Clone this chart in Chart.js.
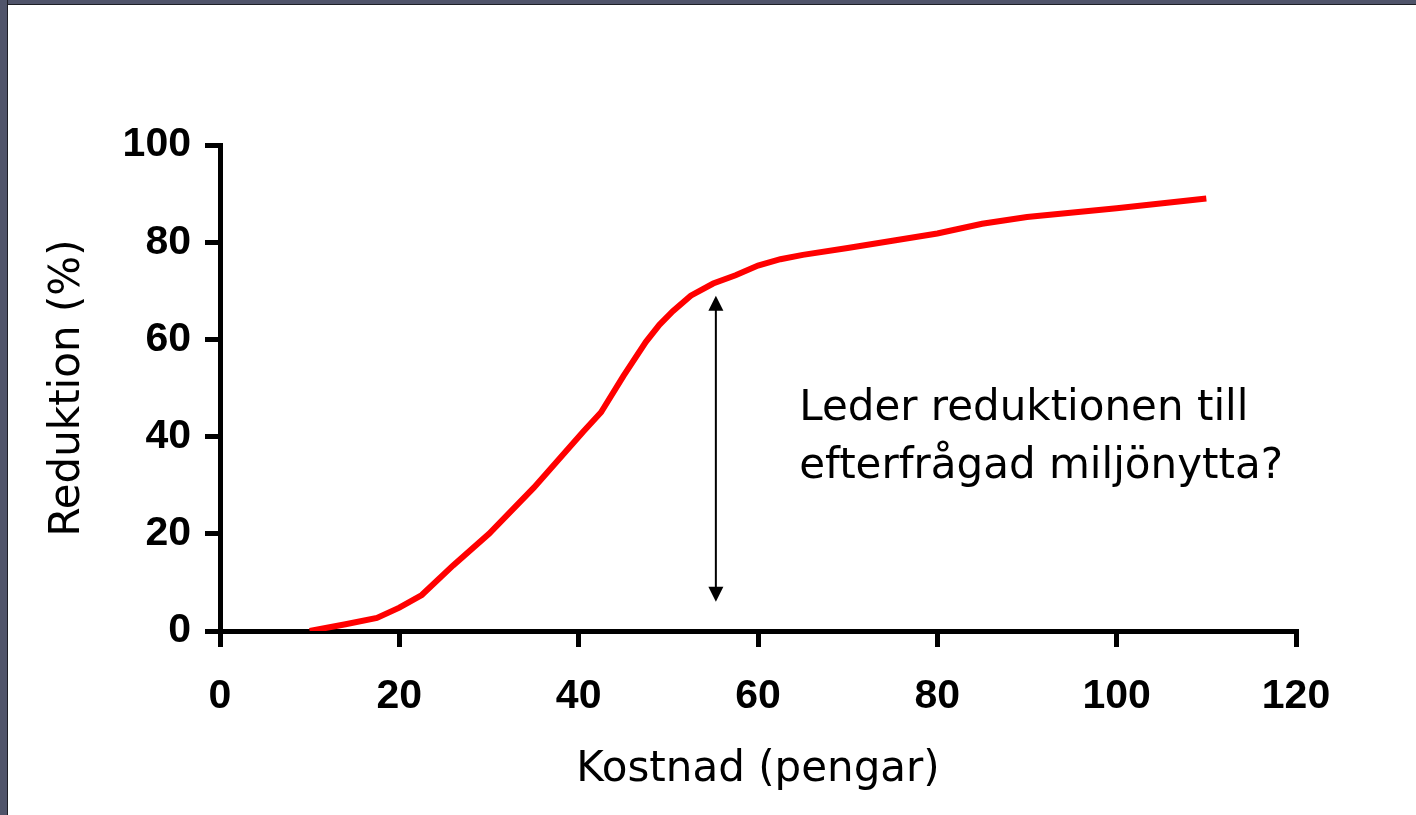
<!DOCTYPE html>
<html>
<head>
<meta charset="utf-8">
<script src="https://cdn.jsdelivr.net/npm/chart.js@4.4.1/dist/chart.umd.min.js"></script>
<style>
    html, body { margin: 0; padding: 0; background: #ffffff; overflow: hidden; }
    #wrap { position: relative; width: 1416px; height: 815px; }
    #frameLeft { position: absolute; left: 0; top: 0; width: 7px; height: 815px; background: #50546a; border-right: 1px solid #1e1f26; }
    #frameTop { position: absolute; left: 0; top: 0; width: 1416px; height: 4px; background: #50546a; border-bottom: 1px solid #1e1f26; }
</style>
</head>
<body>
<div id="wrap">
    <canvas id="costChart" width="1416" height="815"></canvas>
    <div id="frameTop"></div>
    <div id="frameLeft"></div>
</div>
<script>
// Chart data
const costs = [10, 14, 17.5, 20, 22.5, 26, 30, 35, 40.5, 42.5, 45, 47.5, 49, 50.5, 52.5, 55, 57.5, 60, 62.5, 65, 70, 75, 80, 85, 90, 100, 110];
const reductions = [0, 1.4, 2.7, 4.8, 7.4, 13.5, 20, 29.5, 41, 45, 52.5, 59.5, 63, 65.8, 69, 71.5, 73.2, 75.2, 76.5, 77.4, 78.8, 80.3, 81.8, 83.8, 85.2, 87, 89];
const xTicks = [0, 20, 40, 60, 80, 100, 120];
const yTicks = [0, 20, 40, 60, 80, 100];

// Double-headed arrow (cost, from reduction, to reduction)
const arrowCost = [55.3];
const arrowRange = [6, 69];
const noteLines = ['Leder reduktionen till', 'efterfrågad miljönytta?'];

const tickFont = { family: "'Liberation Sans', Arial, sans-serif", size: 41, weight: 'bold' };
const titleFont = { family: "'DejaVu Sans', Tahoma, sans-serif", size: 42, weight: 'normal' };

// Draws the vertical double arrow and the question text
const arrowPlugin = {
    id: 'arrowNote',
    afterDatasetsDraw(chart) {
        const ctx = chart.ctx;
        const xs = chart.scales.x;
        const ys = chart.scales.y;
        const ax = xs.getPixelForValue(arrowCost[0]);
        const yTop = ys.getPixelForValue(arrowRange[1]);
        const yBot = ys.getPixelForValue(arrowRange[0]);
        const head = 15;
        const half = 7.5;

        ctx.save();
        ctx.strokeStyle = '#000';
        ctx.fillStyle = '#000';
        ctx.lineWidth = 2;
        ctx.beginPath();
        ctx.moveTo(ax, yTop + head - 1);
        ctx.lineTo(ax, yBot - head + 1);
        ctx.stroke();

        ctx.beginPath();
        ctx.moveTo(ax, yTop);
        ctx.lineTo(ax - half, yTop + head);
        ctx.lineTo(ax + half, yTop + head);
        ctx.closePath();
        ctx.fill();

        ctx.beginPath();
        ctx.moveTo(ax, yBot);
        ctx.lineTo(ax - half, yBot - head);
        ctx.lineTo(ax + half, yBot - head);
        ctx.closePath();
        ctx.fill();

        // note text
        ctx.font = "normal 42px 'DejaVu Sans', Tahoma, sans-serif";
        ctx.textAlign = 'left';
        ctx.textBaseline = 'alphabetic';
        const tx = xs.getPixelForValue(64.6);
        let ty = ys.getPixelForValue(43.5);
        noteLines.forEach(function(line) {
            ctx.fillText(line, tx, ty);
            ty += 58;
        });
        ctx.restore();
    }
};

const ctx = document.getElementById('costChart').getContext('2d');
new Chart(ctx, {
    type: 'line',
    data: {
        datasets: [{
            data: costs.map((c, i) => ({ x: c, y: reductions[i] })),
            borderColor: '#ff0000',
            borderWidth: 6,
            pointRadius: 0,
            tension: 0,
            fill: false
        }]
    },
    options: {
        responsive: false,
        animation: false,
        layout: { padding: { left: 0, top: 145, right: 120, bottom: 0 } },
        plugins: {
            legend: { display: false },
            tooltip: { enabled: false }
        },
        scales: {
            x: {
                type: 'linear',
                min: 0,
                max: 120,
                afterBuildTicks: scale => { scale.ticks = xTicks.map(v => ({ value: v })); },
                afterFit: scale => { scale.height = 815 - 631; },
                border: { display: true, color: '#000', width: 5 },
                grid: { drawOnChartArea: false, drawTicks: true, tickLength: 16, color: '#000', lineWidth: 5 },
                ticks: { color: '#000', font: tickFont, padding: 25, maxRotation: 0 },
                title: { display: true, text: 'Kostnad (pengar)', color: '#000', font: titleFont, padding: { top: 0, bottom: 20 } }
            },
            y: {
                type: 'linear',
                min: 0,
                max: 100,
                afterBuildTicks: scale => { scale.ticks = yTicks.map(v => ({ value: v })); },
                afterFit: scale => { scale.width = 220; },
                border: { display: true, color: '#000', width: 5 },
                grid: { drawOnChartArea: false, drawTicks: true, tickLength: 15, color: '#000', lineWidth: 5 },
                ticks: { color: '#000', font: tickFont, padding: 14 },
                title: { display: true, text: 'Reduktion (%)', color: '#000', font: titleFont, padding: { top: 43, bottom: 0 } }
            }
        }
    },
    plugins: [arrowPlugin]
});
</script>
</body>
</html>
